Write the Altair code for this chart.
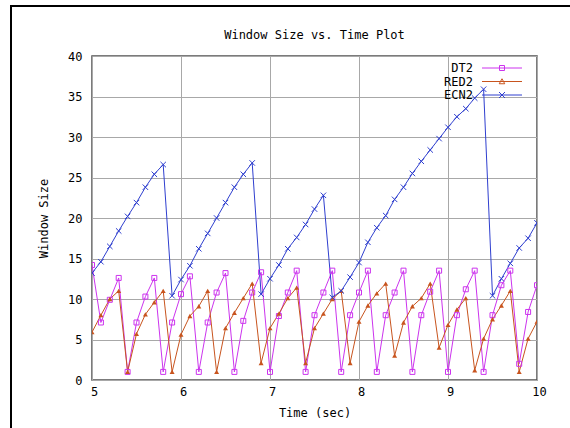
import altair as alt
import pandas as pd

# ---- data ----
times = [5.0, 5.1, 5.2, 5.3, 5.4, 5.5, 5.6, 5.7, 5.8, 5.9,
         6.0, 6.1, 6.2, 6.3, 6.4, 6.5, 6.6, 6.7, 6.8, 6.9,
         7.0, 7.1, 7.2, 7.3, 7.4, 7.5, 7.6, 7.7, 7.8, 7.9,
         8.0, 8.1, 8.2, 8.3, 8.4, 8.5, 8.6, 8.7, 8.8, 8.9,
         9.0, 9.1, 9.2, 9.3, 9.4, 9.5, 9.6, 9.7, 9.8, 9.9, 10.0]

dt2 = [14.2, 7.1, 9.9, 12.6, 1.0, 7.1, 10.3, 12.6, 1.0, 7.1,
       10.6, 12.8, 1.0, 7.1, 10.8, 13.2, 1.0, 7.3, 10.8, 13.3,
       1.0, 7.9, 10.8, 13.5, 1.0, 8.0, 10.8, 13.5, 1.0, 8.0,
       10.8, 13.5, 1.0, 8.0, 10.8, 13.5, 1.0, 8.0, 10.9, 13.5,
       1.0, 8.0, 11.2, 13.5, 1.0, 8.0, 11.7, 13.5, 2.0, 8.4, 11.7]

red2 = [5.9, 8.0, 10.0, 11.0, 1.0, 5.7, 8.1, 9.6, 11.0, 1.0,
        5.6, 7.9, 9.1, 11.0, 1.0, 6.4, 8.3, 10.1, 11.9, 2.1,
        6.4, 8.2, 10.1, 11.4, 2.1, 6.4, 8.2, 10.0, 11.0, 2.1,
        7.2, 9.2, 10.7, 11.9, 3.0, 7.1, 9.1, 10.1, 11.9, 4.0,
        6.8, 8.7, 10.1, 1.2, 5.1, 7.5, 9.2, 11.0, 1.0, 5.1, 7.2]

ecn2 = [13.2, 14.6, 16.5, 18.4, 20.2, 21.9, 23.8, 25.4, 26.6, 10.4,
        12.4, 14.1, 16.2, 18.1, 20.0, 21.9, 23.8, 25.4, 26.8, 10.6,
        12.5, 14.2, 16.2, 17.6, 19.2, 21.1, 22.8, 10.2, 11.0, 12.7,
        14.5, 17.0, 18.8, 20.3, 22.3, 23.8, 25.5, 27.0, 28.4, 29.8,
        31.2, 32.5, 33.5, 34.8, 35.9, 10.4, 12.5, 14.4, 16.3, 17.5, 19.4]

series_names = ["DT2", "RED2", "ECN2"]
series_colors = ["#cc33ee", "#c8541e", "#2f3fcf"]
x_ticks = [5, 6, 7, 8, 9, 10]
y_ticks = [0, 5, 10, 15, 20, 25, 30, 35, 40]

FONT = "DejaVu Sans Mono"
X_SHAPE = "M-1,-1L1,1M-1,1L1,-1"
# legend symbols: a line sample drawn to the right of the label, marker in its middle
legend_paths = [
    "M3,0H11M6.5,-0.5H7.5V0.5H6.5Z",
    "M3,0H11M7,-0.55L7.55,0.45H6.45Z",
    "M3,0H11M6.4,-0.6L7.6,0.6M6.4,0.6L7.6,-0.6",
]

rows = []
for name, vals in zip(series_names, [dt2, red2, ecn2]):
    for t, v in zip(times, vals):
        rows.append({"t": t, "value": v, "series": name})
df = pd.DataFrame(rows)

xenc = alt.X("t:Q", scale=alt.Scale(domain=[5, 10], nice=False, zero=False),
             axis=alt.Axis(values=x_ticks, title="Time (sec)", labelOffset=2,
                           labelFlush=False, labelPadding=6, titlePadding=10))
yenc = alt.Y("value:Q", scale=alt.Scale(domain=[0, 40], nice=False),
             axis=alt.Axis(values=y_ticks, title="Window Size", labelPadding=10,
                           labelFlush=False, titlePadding=17))

layers = []
for name, col in zip(series_names, series_colors):
    sub = alt.Chart(df).transform_filter(alt.datum.series == name)
    layers.append(sub.mark_line(color=col, strokeWidth=1, clip=True).encode(x=xenc, y=yenc))

layers.append(
    alt.Chart(df).transform_filter(alt.datum.series == "DT2")
    .mark_point(shape="square", size=25, filled=False, color=series_colors[0], strokeWidth=1, opacity=1, clip=True)
    .encode(x=xenc, y=yenc)
)
layers.append(
    alt.Chart(df).transform_filter(alt.datum.series == "RED2")
    .mark_point(shape="triangle-up", size=25, filled=True, color=series_colors[1], opacity=1, clip=True)
    .encode(x=xenc, y=yenc)
)
layers.append(
    alt.Chart(df).transform_filter(alt.datum.series == "ECN2")
    .mark_point(shape=X_SHAPE, size=30, filled=False, color=series_colors[2], strokeWidth=1, opacity=1, clip=True)
    .encode(x=xenc, y=yenc)
)

leg = alt.Legend(title=None, orient="none", legendX=369, legendY=6,
                 symbolSize=100, symbolStrokeWidth=1, labelAlign="right",
                 labelOffset=0, labelFont=FONT, labelFontSize=12,
                 labelColor="black", rowPadding=1.5, symbolOpacity=1)
layers.append(
    alt.Chart(df).transform_filter("false")
    .mark_point(filled=False, strokeWidth=1)
    .encode(
        color=alt.Color("series:N", scale=alt.Scale(domain=series_names, range=series_colors), legend=leg),
        shape=alt.Shape("series:N", scale=alt.Scale(domain=series_names, range=legend_paths), legend=leg),
    )
)

# outer page frame (decoration)
frame_df = pd.DataFrame({"k": [0]})
layers.append(alt.Chart(frame_df).mark_rule(color="black", strokeWidth=2)
              .encode(x=alt.value(-81), y=alt.value(-50), y2=alt.value(372)))
layers.append(alt.Chart(frame_df).mark_rule(color="black", strokeWidth=2)
              .encode(x=alt.value(-82), x2=alt.value(478), y=alt.value(-50)))

chart = alt.layer(*layers).properties(
    width=445, height=324,
    title=alt.TitleParams("Window Size vs. Time Plot", font=FONT, fontSize=12,
                          fontWeight="normal", offset=-37, anchor="middle",
                          frame="group", color="black"),
    padding={"left": 92, "top": 56, "right": 33, "bottom": 48},
    autosize="none",
    background="white",
).configure_view(
    stroke="#505050", strokeWidth=1.5
).configure_axis(
    grid=True, gridColor="#a8a8a8", gridWidth=1, gridOpacity=1,
    domain=False, ticks=False, tickSize=0,
    labelFont=FONT, labelFontSize=12, labelColor="black",
    titleFont=FONT, titleFontSize=12, titleFontWeight="normal", titleColor="black",
)

chart.save("out.html", embed_options={"renderer": "svg", "actions": False})
